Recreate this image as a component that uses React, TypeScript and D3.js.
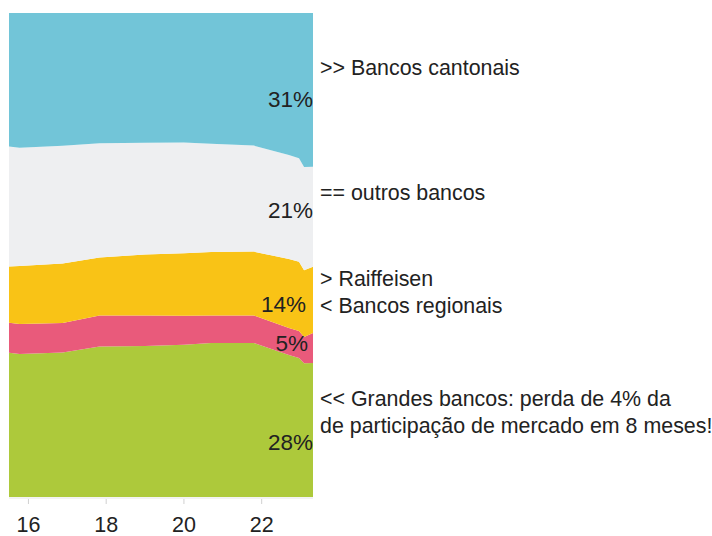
import React from 'react'
import * as d3 from 'd3'

// market share by bank group, in %
const years = [2015.5, 2015.77, 2016.88, 2017.83, 2019.0, 2020.0, 2020.7, 2021.8, 2022.7, 2022.96, 2023.09, 2023.32]
const grandes = [29.8, 29.5, 29.8, 31.1, 31.2, 31.5, 31.8, 31.8, 29.3, 28.7, 27.6, 27.7]
const regionais = [6.2, 6.2, 6.1, 6.4, 6.3, 6.0, 5.7, 5.7, 5.6, 5.6, 5.4, 6.2]
const raiffeisen = [11.6, 12.0, 12.3, 12.0, 12.6, 12.9, 13.1, 13.2, 14.2, 14.3, 13.8, 13.7]
const outros = [24.8, 24.4, 24.3, 23.6, 23.1, 22.9, 22.4, 21.9, 21.5, 21.4, 21.3, 20.7]
const cantonais = [27.6, 27.8, 27.4, 26.9, 26.8, 26.8, 27.0, 27.4, 29.3, 30.0, 31.8, 31.8]

const keys = ['grandes', 'regionais', 'raiffeisen', 'outros', 'cantonais']
const colors = ['#adc93b', '#e95a7b', '#f9c316', '#eeeff1', '#72c5d8']
const tickYears = [2016, 2018, 2020, 2022]

// end labels and side notes
const endLabels = [
  {text: '31%', x: 313, y: 107},
  {text: '21%', x: 313, y: 218},
  {text: '14%', x: 306, y: 312},
  {text: '5%', x: 308, y: 351},
  {text: '28%', x: 313, y: 450},
]
const notes = [
  {text: '>> Bancos cantonais', y: 75},
  {text: '== outros bancos', y: 200},
  {text: '> Raiffeisen', y: 286},
  {text: '< Bancos regionais', y: 313},
  {text: '<< Grandes bancos: perda de 4% da', y: 406},
  {text: 'de participação de mercado em 8 meses!', y: 433},
]

const font = '"Liberation Sans", Arial, sans-serif'

const App = () => {
  const margin = {top: 13, left: 9, right: 313, bottom: 497}

  const rows = years.map((yr, i) => ({
    year: yr,
    grandes: grandes[i],
    regionais: regionais[i],
    raiffeisen: raiffeisen[i],
    outros: outros[i],
    cantonais: cantonais[i],
  }))

  const stack = d3.stack().keys(keys).offset(d3.stackOffsetExpand)
  const series = stack(rows as any)

  const x = d3.scaleLinear()
    .domain([years[0], years[years.length - 1]])
    .range([margin.left, margin.right])
  const y = d3.scaleLinear()
    .domain([0, 1])
    .range([margin.bottom, margin.top])

  const area = d3.area<any>()
    .x(d => x(d.data.year))
    .y0(d => y(d[0]))
    .y1(d => y(d[1]))

  return (
    <svg width={712} height={536} style={{position: 'absolute', left: 0, top: 0, background: '#fff'}}>
      {series.map((s, i) => (
        <path key={keys[i]} d={area(s as any) || ''} fill={colors[i]} />
      ))}

      {/* x axis */}
      <line x1={margin.left} x2={margin.right} y1={margin.bottom + 1} y2={margin.bottom + 1} stroke="#e6e6e6" />
      {tickYears.map(t => (
        <g key={t} transform={`translate(${x(t)},0)`}>
          <line y1={margin.bottom + 2} y2={margin.bottom + 7} stroke="#d0d0d0" />
          <text y={532} textAnchor="middle" fontSize={21.5} fontFamily={font} fill="#222">
            {String(t % 100)}
          </text>
        </g>
      ))}

      {endLabels.map(l => (
        <text key={l.text} x={l.x} y={l.y} textAnchor="end" fontSize={22.5} fontFamily={font} fill="#222">
          {l.text}
        </text>
      ))}

      {notes.map(n => (
        <text key={n.text} x={320} y={n.y} fontSize={21.4} fontFamily={font} fill="#222">
          {n.text}
        </text>
      ))}
    </svg>
  )
}

export default App
